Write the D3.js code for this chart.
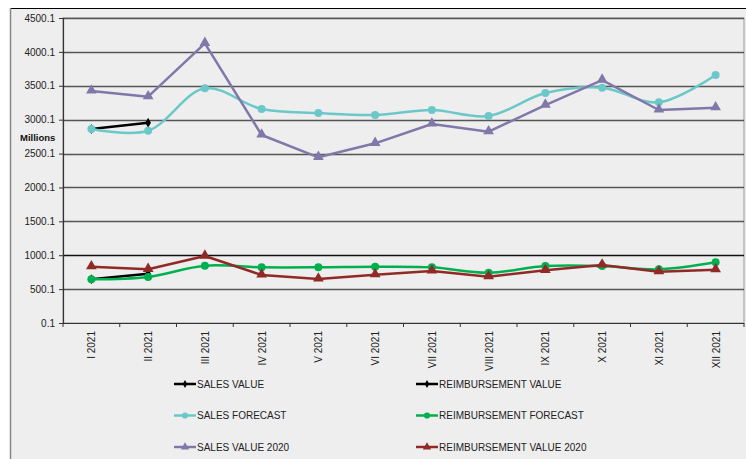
<!DOCTYPE html>
<html><head><meta charset="utf-8">
<script src="https://cdn.jsdelivr.net/npm/d3@7"></script>
<style>
html,body{margin:0;padding:0;background:#fff;}
svg{display:block;font-family:"Liberation Sans",Arial,sans-serif;}
</style></head>
<body>
<svg id="chart" width="746" height="459"></svg>
<script>
const categories = ["I 2021","II 2021","III 2021","IV 2021","V 2021","VI 2021","VII 2021","VIII 2021","IX 2021","X 2021","XI 2021","XII 2021"];
const yTicks = [0.1,500.1,1000.1,1500.1,2000.1,2500.1,3000.1,3500.1,4000.1,4500.1];
const salesValue = [2862, 2955];
const reimbursementValue = [645, 727];
const salesForecast = [2862, 2837, 3463, 3157, 3098, 3069, 3143, 3054, 3393, 3472, 3256, 3659];
const reimbursementForecast = [645, 679, 846, 822, 822, 831, 822, 742, 841, 841, 792, 895];
const salesValue2020 = [3423, 3339, 4127, 2774, 2445, 2651, 2936, 2823, 3216, 3585, 3143, 3177];
const reimbursementValue2020 = [831, 792, 988, 708, 649, 712, 767, 683, 777, 856, 757, 786];

(function(){
const series = [
  {name:"SALES VALUE", data:salesValue, color:"#000000", marker:"diamond", curve:d3.curveLinear},
  {name:"REIMBURSEMENT VALUE", data:reimbursementValue, color:"#000000", marker:"diamond", curve:d3.curveLinear},
  {name:"SALES FORECAST", data:salesForecast, color:"#6cc8c8", marker:"circle", curve:d3.curveCatmullRom.alpha(0.5)},
  {name:"REIMBURSEMENT FORECAST", data:reimbursementForecast, color:"#00b050", marker:"circle", curve:d3.curveCatmullRom.alpha(0.5)},
  {name:"SALES VALUE 2020", data:salesValue2020, color:"#8078a9", marker:"triangle", curve:d3.curveLinear},
  {name:"REIMBURSEMENT VALUE 2020", data:reimbursementValue2020, color:"#912a26", marker:"triangle", curve:d3.curveLinear}
];

const svg = d3.select("#chart");
svg.append("rect").attr("x",10).attr("y",8).attr("width",746).attr("height",460).attr("fill","#eeeeee");
svg.append("line").attr("x1",10).attr("x2",746).attr("y1",8.5).attr("y2",8.5).attr("stroke","#000").attr("stroke-width",1);
svg.append("line").attr("x1",10.5).attr("x2",10.5).attr("y1",8).attr("y2",459).attr("stroke","#888").attr("stroke-width",1.5);

const pLeft = 63, pRight = 744, pTop = 18, pBottom = 323;
const x = d3.scaleBand().domain(categories).range([pLeft, pRight]);
const y = d3.scaleLinear().domain([0.1, 4500.1]).range([pBottom, pTop]);

svg.append("rect").attr("x",pLeft).attr("y",pTop).attr("width",pRight-pLeft).attr("height",pBottom-pTop)
  .attr("fill","none").attr("stroke","#999").attr("stroke-width",1);

svg.append("g").selectAll("line").data(yTicks.slice(1)).join("line")
  .attr("x1",pLeft).attr("x2",pRight)
  .attr("y1",d=>Math.round(y(d))+0.5).attr("y2",d=>Math.round(y(d))+0.5)
  .attr("stroke",d=> (d===1000.1 ? "#111" : "#555")).attr("stroke-width",1.4);

const yAxis = d3.axisLeft(y).tickValues(yTicks).tickFormat(d=>d.toFixed(1)).tickSize(4).tickPadding(4);
const gy = svg.append("g").attr("transform",`translate(${pLeft},0)`).call(yAxis);
gy.select(".domain").attr("stroke","#333").attr("stroke-width",1.2);
gy.selectAll(".tick line").attr("stroke","#333");
gy.selectAll("text").attr("font-size",10).attr("fill","#222").attr("font-family","Liberation Sans, Arial, sans-serif");

const gx = svg.append("g").attr("transform",`translate(0,${pBottom})`);
gx.append("line").attr("x1",pLeft).attr("x2",pRight).attr("y1",0.5).attr("y2",0.5).attr("stroke","#333").attr("stroke-width",1.2);
const bounds = d3.range(categories.length+1).map(i => pLeft + i*x.bandwidth());
gx.selectAll("line.tk").data(bounds).join("line").attr("class","tk")
  .attr("x1",d=>d).attr("x2",d=>d).attr("y1",0).attr("y2",4).attr("stroke","#333");
gx.selectAll("text").data(categories).join("text")
  .attr("transform",d=>`translate(${x(d)+x.bandwidth()/2+4},8) rotate(-90)`)
  .attr("text-anchor","end").attr("font-size",10).attr("fill","#222").text(d=>d);

svg.append("text").attr("x",20).attr("y",141).attr("font-size",9.5).attr("font-weight","bold").attr("fill","#111").text("Millions");

function markerPath(type){
  if(type==="circle") return d3.symbol().type(d3.symbolCircle).size(50)();
  if(type==="triangle") return d3.symbol().type(d3.symbolTriangle).size(50)();
  return d3.symbol().type(d3.symbolDiamond).size(28)();
}
const cx = (i)=> x(categories[i]) + x.bandwidth()/2;

series.forEach(s=>{
  const line = d3.line().x((d,i)=>cx(i)).y(d=>y(d)).curve(s.curve);
  svg.append("path").attr("d",line(s.data)).attr("fill","none").attr("stroke",s.color).attr("stroke-width",2.5).attr("stroke-linejoin","round");
  svg.append("g").selectAll("path").data(s.data).join("path")
    .attr("d",markerPath(s.marker))
    .attr("transform",(d,i)=>`translate(${cx(i)},${y(d)+(s.marker==="triangle"?-0.5:0)})`)
    .attr("fill",s.color);
});

const legendPos = [[174,384],[416,384],[174,415.5],[416,415.5],[174,447],[416,447]];
series.forEach((s,i)=>{
  const [lx,ly] = legendPos[i];
  const g = svg.append("g").attr("transform",`translate(${lx},${ly})`);
  g.append("line").attr("x1",0).attr("x2",22).attr("y1",0).attr("y2",0).attr("stroke",s.color).attr("stroke-width",2.5);
  const sz = s.marker==="circle"?30:(s.marker==="triangle"?30:18);
  const t = s.marker==="circle"?d3.symbolCircle:(s.marker==="triangle"?d3.symbolTriangle:d3.symbolDiamond);
  g.append("path").attr("d",d3.symbol().type(t).size(sz)()).attr("transform","translate(11,0)").attr("fill",s.color);
  g.append("text").attr("x",23).attr("y",3.5).attr("font-size",10).attr("fill","#222").text(s.name);
});
})();
</script>
</body></html>
